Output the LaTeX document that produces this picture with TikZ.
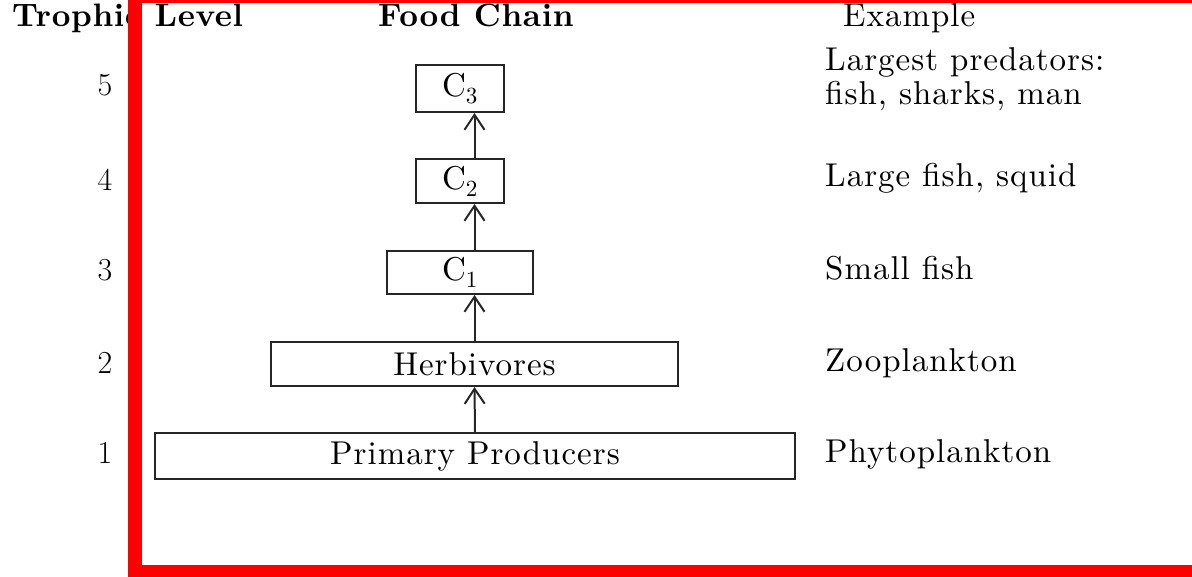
\documentclass[tikz,border=0pt]{standalone}
\usepackage{fontspec}
\usetikzlibrary{arrows.meta}
\newfontfamily\trackedfont{lmroman10-regular.otf}[LetterSpace=3]
\newfontfamily\trackedbold{lmroman10-bold.otf}[LetterSpace=2]
\newcommand{\bodyfnt}{\trackedfont\fontsize{33}{40}\selectfont}
\newcommand{\headfnt}{\trackedbold\fontsize{32.5}{38}\selectfont}
\begin{document}
\begin{tikzpicture}[x=1pt,y=-1pt,
  body/.style={font=\bodyfnt, inner sep=0pt},
  head/.style={font=\headfnt, inner sep=0pt},
  num/.style={font=\fontsize{32}{38}\selectfont, inner sep=0pt},
  levelbox/.style={draw=black!85, line width=2pt, inner sep=0pt, font=\bodyfnt},
  arr/.style={line width=2pt, draw=black!85, -{Straight Barb[length=15pt,width=20pt,line width=2pt]}}]
\useasboundingbox (0,0) rectangle (1192,577);
\fill[white] (0,0) rectangle (1192,577);
% headers
\node[head, anchor=base west] (hlevel) at (12,27) {Trophic Level};
\node[head, anchor=base west] (hchain) at (378,27) {Food Chain};
\node[body, anchor=base west] (hex) at (843,27) {Example};
% level numbers
\node[num] (n5) at (105,85) {5};
\node[num] (n4) at (105,180) {4};
\node[num] (n3) at (105,270) {3};
\node[num] (n2) at (105,363) {2};
\node[num] (n1) at (105,453) {1};
% boxes
\node[levelbox, minimum width=88pt, minimum height=47pt] (c3) at (460,88.5) {C\textsubscript{3}};
\node[levelbox, minimum width=88pt, minimum height=44pt] (c2) at (460,181) {C\textsubscript{2}};
\node[levelbox, minimum width=146pt, minimum height=43pt] (c1) at (460,272.5) {C\textsubscript{1}};
\node[levelbox, minimum width=407pt, minimum height=44pt] (herb) at (474.5,364) {Herbivores};
\node[levelbox, minimum width=640pt, minimum height=46pt] (pp) at (475,456) {Primary Producers};
% arrows
\draw[arr] (pp.north) -- (herb.south);
\draw[arr] (herb.north) -- (herb.north |- c1.south);
\draw[arr] (herb.north |- c1.north) -- (herb.north |- c2.south);
\draw[arr] (herb.north |- c2.north) -- (herb.north |- c3.south);
% examples
\node[body, anchor=base west] (e5a) at (825,71) {Largest predators:};
\node[body, anchor=base west] (e5b) at (825,105) {fish, sharks, man};
\node[body, anchor=base west] (e4) at (825,187) {Large fish, squid};
\node[body, anchor=base west] (e3) at (825,280) {Small fish};
\node[body, anchor=base west] (e2) at (825,371) {Zooplankton};
\node[body, anchor=base west] (e1) at (825,462) {Phytoplankton};
% red frame
\fill[red] (128,0) rectangle (142,577);
\fill[red] (128,0) rectangle (1192,3.5);
\fill[red] (128,565) rectangle (1192,577);
\end{tikzpicture}
\end{document}
